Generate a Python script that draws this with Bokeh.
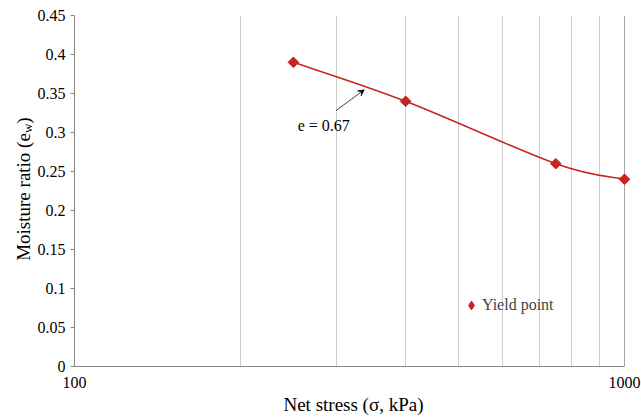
import numpy as np
from bokeh.plotting import figure
from bokeh.layouts import row
from bokeh.models import (FixedTicker, CustomJSTickFormatter, Grid, Legend, LegendItem,
                          Label, Arrow, VeeHead)
from bokeh.embed import file_html
from bokeh.resources import INLINE

# Yield points: net stress (kPa) vs moisture ratio e_w
stress = [250, 400, 750, 1000]
moisture = [0.39, 0.34, 0.26, 0.24]
series_name = "Yield point"
y_ticks = [0, 0.05, 0.1, 0.15, 0.2, 0.25, 0.3, 0.35, 0.4, 0.45]
x_ticks = [100, 1000]
x_grid = [200, 300, 400, 500, 600, 700, 800, 900]

FONT = "Liberation Serif"
RED = "#c8231e"
AXIS = "#868686"
TITLE_W = 34      # width of the strip holding the y-axis title
H = 420

# ---- main chart -------------------------------------------------------------
# the x range runs a few pixels past 1000 so the last marker is not cut off;
# the axis line itself stops at 1000
x_end = 10 ** (3 + 8 / 551)
p = figure(width=641 - TITLE_W, height=H, x_axis_type="log", x_range=(100, x_end),
           y_range=(0, 0.45), output_backend="svg", toolbar_location=None,
           min_border_left=73 - TITLE_W, min_border_right=9,
           min_border_top=15, min_border_bottom=54)
p.outline_line_color = None
p.background_fill_color = "white"
p.border_fill_color = "white"

p.xaxis.bounds = (100, 1000)
p.xaxis.ticker = FixedTicker(ticks=x_ticks, minor_ticks=[])
p.xaxis.formatter = CustomJSTickFormatter(code="return tick.toFixed(0)")
p.xaxis.major_tick_out = 0
p.xaxis.major_tick_in = 0
p.xaxis.minor_tick_out = 0
p.xaxis.minor_tick_in = 0
p.xaxis.major_label_standoff = 10
p.xaxis.axis_label = "Net stress (σ, kPa)"
p.xaxis.axis_label_standoff = 3

p.yaxis.ticker = FixedTicker(ticks=y_ticks, minor_ticks=[])
p.yaxis.formatter = CustomJSTickFormatter(code="return String(Number(tick.toFixed(2)))")
p.yaxis.major_tick_out = 4
p.yaxis.major_tick_in = 0
p.yaxis.minor_tick_out = 0
p.yaxis.major_label_standoff = 5

for ax in (p.xaxis, p.yaxis):
    ax.axis_line_color = AXIS
    ax.major_tick_line_color = AXIS
    ax.major_label_text_font = FONT
    ax.major_label_text_font_size = "16px"
    ax.major_label_text_color = "black"
    ax.axis_label_text_font = FONT
    ax.axis_label_text_font_size = "19px"
    ax.axis_label_text_font_style = "normal"
    ax.axis_label_text_color = "black"

# vertical grid lines only
p.ygrid.grid_line_color = None
p.xgrid.ticker = FixedTicker(ticks=x_grid, minor_ticks=[])
p.xgrid.grid_line_color = "#cfcfcf"
p.xgrid.grid_line_width = 1
p.add_layout(Grid(dimension=0, ticker=FixedTicker(ticks=[1000], minor_ticks=[]),
                  grid_line_color="#a6a6a6"))

# smoothed line through the points (Catmull-Rom segments built in log-x space)
lx = np.log10(np.array(stress, dtype=float))
ly = np.array(moisture, dtype=float)
n = len(lx)
x0, y0, x1, y1, cx0, cy0, cx1, cy1 = ([] for _ in range(8))
for i in range(n - 1):
    a = max(i - 1, 0)
    d = min(i + 2, n - 1)
    c0x = lx[i] + (lx[i + 1] - lx[a]) / 6.0
    c0y = ly[i] + (ly[i + 1] - ly[a]) / 6.0
    c1x = lx[i + 1] - (lx[d] - lx[i]) / 6.0
    c1y = ly[i + 1] - (ly[d] - ly[i]) / 6.0
    x0.append(10 ** lx[i]); y0.append(ly[i])
    x1.append(10 ** lx[i + 1]); y1.append(ly[i + 1])
    cx0.append(10 ** c0x); cy0.append(c0y)
    cx1.append(10 ** c1x); cy1.append(c1y)
p.bezier(x0=x0, y0=y0, x1=x1, y1=y1, cx0=cx0, cy0=cy0, cx1=cx1, cy1=cy1,
         line_color=RED, line_width=1.5)

# markers: squares turned 45 degrees
p.scatter(stress, moisture, marker="square", angle=np.pi / 4, size=7.5,
          fill_color=RED, line_color=RED)

# legend key (diamond marker of zero size in the plot; the legend sizes its own glyph)
key = p.scatter(stress[:1], moisture[:1], marker="diamond", size=0,
                fill_color=RED, line_color=RED)
legend = Legend(items=[LegendItem(label=series_name, renderers=[key])],
                location=(386, 49), padding=0, margin=0, spacing=0,
                glyph_width=22, glyph_height=24, label_standoff=0, label_height=24,
                label_text_font=FONT, label_text_font_size="16px",
                border_line_color=None, background_fill_alpha=0)
p.add_layout(legend)

# annotation for void ratio
p.add_layout(Arrow(end=VeeHead(size=6, line_width=0.75, line_color="black"),
                   x_start=298.7, y_start=0.328, x_end=336.3, y_end=0.3547,
                   line_width=0.75, line_color="black"))
p.add_layout(Label(x=254.5, y=0.309, text="e = 0.67", text_baseline="middle",
                   text_font=FONT, text_font_size="16px", text_color="black"))

# ---- y-axis title strip (pixels up from the frame bottom, with subscript w) ---
# the row aligns this strip's frame with the chart frame (top 15 px, bottom 54 px)
FRAME_H = H - 15 - 54
t = figure(width=TITLE_W, height=H, x_range=(0, TITLE_W), y_range=(0, FRAME_H),
           output_backend="svg", toolbar_location=None,
           x_axis_location=None, y_axis_location=None,
           min_border_left=0, min_border_right=0, min_border_top=15, min_border_bottom=54)
t.outline_line_color = None
t.grid.visible = False
t.background_fill_color = "white"
t.border_fill_color = "white"
ttl = dict(angle=np.pi / 2, text_baseline="middle", text_align="left",
           text_color="black", text_font=FONT)
t.add_layout(Label(x=22.5, y=105.7, text="Moisture ratio (e", text_font_size="19px", **ttl))
t.add_layout(Label(x=27.3, y=233.4, text="w", text_font_size="13px", **ttl))
t.add_layout(Label(x=22.5, y=242.8, text=")", text_font_size="19px", **ttl))

open("out.html", "w").write(file_html(row(t, p), INLINE))
